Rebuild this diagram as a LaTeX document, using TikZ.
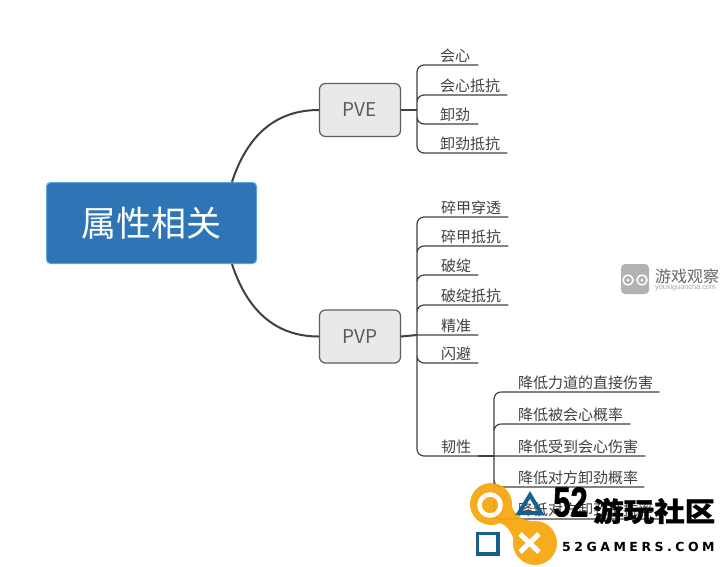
\documentclass[tikz,border=0pt]{standalone}
\usepackage{fontspec}
\setmainfont{Noto Sans CJK SC}
\newfontfamily\logofont{Liberation Sans}
\newfontfamily\gamersfont{DejaVu Sans}
\usetikzlibrary{calc}
\definecolor{ink}{HTML}{404040}
\definecolor{rootblue}{HTML}{2E75B6}
\definecolor{rootedge}{HTML}{5BA3DC}
\definecolor{tagfill}{HTML}{E9E9E9}
\definecolor{logoorange}{HTML}{F7A70F}
\definecolor{logoblue}{HTML}{17608C}
\tikzset{
rootbox/.style={draw=rootedge,fill=rootblue,line width=1pt,rounded corners=4pt,minimum width=210pt,minimum height=81pt,text=white,font=\fontsize{35}{40}\selectfont},
tagbox/.style={draw=ink!85,fill=tagfill,line width=1.2pt,rounded corners=6pt,minimum width=81pt,minimum height=53pt,text=ink!85,font=\fontsize{19}{22}\selectfont},
leaf/.style={anchor=south west,inner xsep=0pt,inner ysep=2pt,align=left,text=ink,font=\fontsize{15}{18}\selectfont},
limb/.style={draw=ink,line width=2pt},
branch/.style={draw=ink,line width=1.2pt,rounded corners=7pt},
}
\begin{document}
\begin{tikzpicture}[x=1pt,y=-1pt]
\useasboundingbox (0,0) rectangle (720,566);
\node[rootbox] (root) at (151.5,223) {属性相关};
\node[tagbox] (pve) at (360,110) {PVE};
\node[tagbox] (pvp) at (360,336.5) {PVP};
\coordinate (pveJoin) at (417,110);
\coordinate (pvpJoin) at (417,335);
\coordinate (renJoin) at (494,456);

\node[leaf,text width=38pt] (huixin) at (440,65) {会心};
\node[leaf,text width=67pt] (huixinKang) at (440,95) {会心抵抗};
\node[leaf,text width=38pt] (xiejin) at (440,124) {卸劲};
\node[leaf,text width=67pt] (xiejinKang) at (440,153) {卸劲抵抗};

\node[leaf,text width=67pt] (suijia) at (441,217) {碎甲穿透};
\node[leaf,text width=67pt] (suijiaKang) at (441,246) {碎甲抵抗};
\node[leaf,text width=37pt] (pozhan) at (441,275) {破绽};
\node[leaf,text width=67pt] (pozhanKang) at (441,305) {破绽抵抗};
\node[leaf,text width=37pt] (jingzhun) at (441,335) {精准};
\node[leaf,text width=37pt] (shanbi) at (441,363) {闪避};
\node[leaf,text width=37pt] (renxing) at (441,456) {韧性};

\node[leaf,text width=141pt] (jiangA) at (518,392) {降低力道的直接伤害};
\node[leaf,text width=112pt] (jiangB) at (518,424) {降低被会心概率};
\node[leaf,text width=127pt] (jiangC) at (518,456) {降低受到会心伤害};
\node[leaf,text width=126pt] (jiangD) at (518,487) {降低对方卸劲概率};
\node[leaf,text width=141pt] (jiangE) at (518,519) {降低对方卸劲抵抗率};

\draw[limb] (root.27) .. controls (247,136) and (275,110) .. (pve.west);
\draw[limb] (root.-27) .. controls (247,310) and (275,336.5) .. (pvp.west);
\draw[limb] (pve.east)--(pveJoin);
\draw[limb] (pvp.east)--(pvpJoin);

\draw[branch] (pveJoin)|-(huixin.south east) (pveJoin)|-(huixinKang.south east)
(pveJoin)|-(xiejin.south east) (pveJoin)|-(xiejinKang.south east);
\draw[branch] (pvpJoin)|-(suijia.south east) (pvpJoin)|-(suijiaKang.south east)
(pvpJoin)|-(pozhan.south east) (pvpJoin)|-(pozhanKang.south east)
(pvpJoin)--(jingzhun.south east) (pvpJoin)|-(shanbi.south east) (pvpJoin)|-(renxing.south east);
\draw[branch] (renxing.south east)--(renJoin);
\draw[branch] (renJoin)|-(jiangA.south east) (renJoin)|-(jiangB.south east)
(renJoin)--(jiangC.south east) (renJoin)|-(jiangD.south east) (renJoin)|-(jiangE.south east);

% grey mark on the right
\fill[black!30,rounded corners=4pt] (621,264) rectangle (649,294);
\draw[white,line width=1.5pt] (628,280) circle (5) (642,280) circle (5);
\fill[white] (628,280) circle (1.5) (642,280) circle (1.5);
\node[anchor=west,inner sep=0pt,text=black!60,font=\fontsize{16}{18}\selectfont] (youxi) at (655,276) {游戏观察};
\node[anchor=west,inner sep=0pt,text=black!35,font=\logofont\fontsize{7.3}{9}\selectfont] (youxiUrl) at (655,288) {youxiguancha.com};

% orange mark, bottom right
\begin{scope}[transparency group,opacity=.94]
\fill[logoorange] (491,504) circle (21) (535,543) circle (22);
\fill[logoorange] (497,522) .. controls (506,524) and (511,531) .. (514,540) -- (531,521) .. controls (522,520) and (515,515) .. (511,505) -- cycle;
\draw[white,line width=4.5pt] (490,505) circle (10.5);
\end{scope}
\draw[white,line width=5pt] (520,534)--(539,552) (539,534)--(520,552);
\draw[logoblue,line width=3.5pt] (477.5,533.5) rectangle (498,554);
\draw[logoblue,line width=4pt,line join=miter] (530,495)--(541,513)--(519,513)--cycle;
\node[inner sep=0pt,text=black,xscale=.74,font=\logofont\bfseries\fontsize{42}{44}\selectfont\addfontfeature{FakeBold=1.5}] (wuer) at (570.5,502) {52};
\node[inner sep=0pt,anchor=west,text=black,yscale=.88,font=\bfseries\fontsize{30.5}{33}\selectfont\addfontfeature{FakeBold=1}] (youwan) at (593,511) {游玩社区};
\node[inner sep=0pt,anchor=west,text=black,font=\gamersfont\bfseries\fontsize{12.5}{15}\selectfont\addfontfeature{LetterSpace=28}] (gamers) at (562,546.5) {52GAMERS.COM};
\end{tikzpicture}
\end{document}
